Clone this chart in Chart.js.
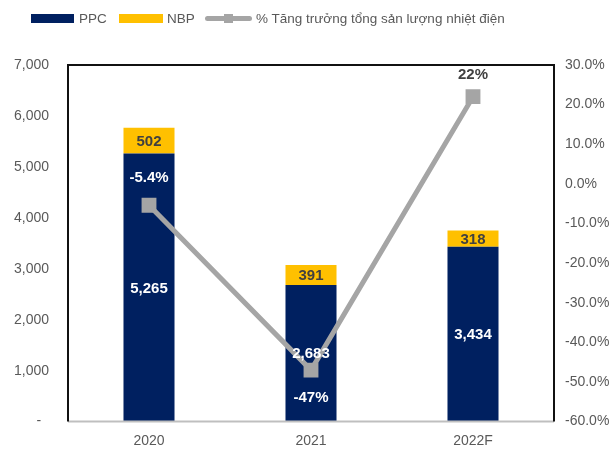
<!DOCTYPE html>
<html><head><meta charset="utf-8">
<script src="https://cdn.jsdelivr.net/npm/chart.js@4/dist/chart.umd.min.js"></script>
<style>
html,body{margin:0;padding:0;background:#fff;}
#wrap{position:relative;width:616px;height:449px;}
#legend{position:absolute;left:0;top:0;width:616px;height:40px;font-family:"Liberation Sans",Arial,sans-serif;font-size:13.5px;color:#595959;}
.sw{position:absolute;}
.lt{position:absolute;top:10px;line-height:18px;white-space:nowrap;}
</style></head>
<body><div id="wrap"><canvas id="c" width="616" height="449"></canvas><div id="legend"></div></div>
<script>
// ---- data ----
const categories = ['2020', '2021', '2022F'];
const ppc = [5265, 2683, 3434];
const nbp = [502, 391, 318];
const growth = [-5.4, -47, 22];
const growthLabels = ['-5.4%', '-47%', '22%'];
const seriesNames = ['PPC', 'NBP', '% Tăng trưởng tổng sản lượng nhiệt điện'];
const leftAxis = { min: 0, max: 7000, step: 1000 };
const rightAxis = { min: -60, max: 30, step: 10 };

// ---- styles ----
const NAVY = '#002060', GOLD = '#FFC000', GREY = '#A5A5A5', TXT = '#595959', DARK = '#404040';
const FONT = '"Liberation Sans", Arial, sans-serif';

// legend (HTML text)
const lg = document.getElementById('legend');
lg.innerHTML =
  '<div class="sw" style="left:31px;top:14px;width:43px;height:9px;background:' + NAVY + '"></div>' +
  '<div class="lt" style="left:79px">' + seriesNames[0] + '</div>' +
  '<div class="sw" style="left:119px;top:14px;width:44px;height:9px;background:' + GOLD + '"></div>' +
  '<div class="lt" style="left:167px">' + seriesNames[1] + '</div>' +
  '<div class="sw" style="left:205px;top:16px;width:47px;height:5px;border-radius:3px;background:' + GREY + '"></div>' +
  '<div class="sw" style="left:224px;top:14px;width:9px;height:9px;background:' + GREY + '"></div>' +
  '<div class="lt" style="left:256px">' + seriesNames[2] + '</div>';

const fmt = v => v.toLocaleString('en-US');

const labelPlugin = {
  id: 'labels',
  afterDatasetsDraw(chart) {
    const ctx = chart.ctx;
    ctx.save();
    ctx.font = 'bold 15px ' + FONT;
    ctx.textAlign = 'center';
    ctx.textBaseline = 'middle';
    chart.getDatasetMeta(0).data.forEach((el, i) => {
      ctx.fillStyle = '#FFFFFF';
      ctx.fillText(fmt(ppc[i]), el.x, (el.y + el.base) / 2 + 1);
    });
    chart.getDatasetMeta(1).data.forEach((el, i) => {
      ctx.fillStyle = DARK;
      ctx.fillText(fmt(nbp[i]), el.x, (el.y + el.base) / 2 + 1);
    });
    const offs = [-27, 28, -22];
    const cols = ['#FFFFFF', '#FFFFFF', DARK];
    chart.getDatasetMeta(2).data.forEach((el, i) => {
      ctx.fillStyle = cols[i];
      ctx.fillText(growthLabels[i], el.x, el.y + offs[i]);
    });
    ctx.restore();
  }
};

const framePlugin = {
  id: 'frame',
  afterDraw(chart) {
    const a = chart.chartArea, ctx = chart.ctx;
    ctx.save();
    ctx.lineWidth = 2;
    ctx.strokeStyle = '#BFBFBF';
    ctx.beginPath(); ctx.moveTo(a.left, a.bottom); ctx.lineTo(a.right, a.bottom); ctx.stroke();
    ctx.strokeStyle = '#111111';
    ctx.beginPath();
    ctx.moveTo(a.left, a.bottom); ctx.lineTo(a.left, a.top); ctx.lineTo(a.right, a.top); ctx.lineTo(a.right, a.bottom);
    ctx.stroke();
    ctx.restore();
  }
};

new Chart(document.getElementById('c'), {
  data: {
    labels: categories,
    datasets: [
      { type: 'bar', label: seriesNames[0], data: ppc, backgroundColor: NAVY, yAxisID: 'y', order: 2,
        barPercentage: 0.315, categoryPercentage: 1 },
      { type: 'bar', label: seriesNames[1], data: nbp, backgroundColor: GOLD, yAxisID: 'y', order: 2,
        barPercentage: 0.315, categoryPercentage: 1 },
      { type: 'line', label: seriesNames[2], data: growth, yAxisID: 'y1', order: 0,
        borderColor: GREY, backgroundColor: GREY, borderWidth: 5, pointStyle: 'rect', pointRadius: 10.5,
        pointBorderWidth: 0, tension: 0 }
    ]
  },
  options: {
    responsive: false,
    animation: false,
    layout: { padding: { top: 65, left: 0, right: 0, bottom: 0 } },
    plugins: { legend: { display: false }, tooltip: { enabled: false } },
    scales: {
      x: {
        stacked: true,
        grid: { display: false, drawTicks: false },
        border: { display: false },
        ticks: { color: TXT, font: { family: FONT, size: 14 }, padding: 11 },
        afterFit: s => { s.height = 25; }
      },
      y: {
        stacked: true, position: 'left',
        min: leftAxis.min, max: leftAxis.max,
        grid: { display: false, drawTicks: false },
        border: { display: false },
        ticks: { stepSize: leftAxis.step, color: TXT, font: { family: FONT, size: 14 }, padding: 19,
          callback: v => v === 0 ? '-  ' : fmt(v) },
        afterFit: s => { s.width = 68; }
      },
      y1: {
        position: 'right',
        min: rightAxis.min, max: rightAxis.max,
        grid: { display: false, drawTicks: false },
        border: { display: false },
        ticks: { stepSize: rightAxis.step, color: TXT, font: { family: FONT, size: 14 }, padding: 11,
          callback: v => v.toFixed(1) + '%' },
        afterFit: s => { s.width = 62; }
      }
    }
  },
  plugins: [labelPlugin, framePlugin]
});
</script>
</body></html>
